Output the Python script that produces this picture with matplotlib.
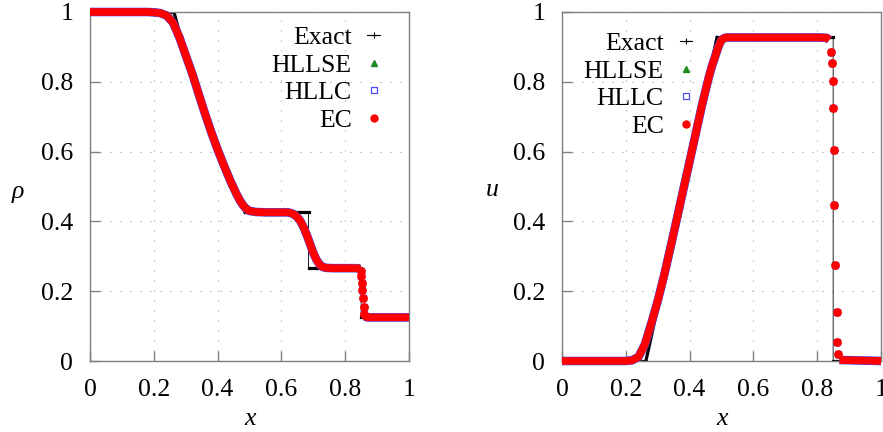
import numpy as np
import matplotlib
matplotlib.use("Agg")
import matplotlib.pyplot as plt
from matplotlib.lines import Line2D

plt.rcParams['font.family'] = ['Liberation Serif', 'DejaVu Serif']

# exact solution (Sod tube)
x_rho_exact = [0.0, 0.263, 0.30, 0.325, 0.35, 0.375, 0.40, 0.425, 0.45, 0.47, 0.486,
               0.685, 0.685, 0.850, 0.850, 1.0]
rho_exact = [1.0, 1.0, 0.877, 0.801, 0.730, 0.664, 0.603, 0.546, 0.494, 0.456, 0.426,
             0.426, 0.266, 0.266, 0.125, 0.125]
x_u_exact = [0.0, 0.263, 0.486, 0.850, 0.850, 1.0]
u_exact = [0.0, 0.0, 0.927, 0.927, 0.0, 0.0]

# numerical solutions (HLLC / HLLSE lie on top of EC)
x_rho_num = [0.0, 0.10, 0.18, 0.20, 0.22, 0.24, 0.26, 0.28, 0.30, 0.32, 0.34, 0.36,
             0.38, 0.40, 0.42, 0.44, 0.46, 0.47, 0.48, 0.49, 0.50, 0.52, 0.55, 0.60,
             0.62, 0.63, 0.64, 0.65, 0.66, 0.67, 0.68, 0.69, 0.70, 0.71, 0.72, 0.73,
             0.74, 0.76, 0.80, 0.84, 0.845,
             0.848, 0.850, 0.852, 0.854, 0.856, 0.858, 0.860,
             0.862, 0.866, 0.87, 1.0]
ec_rho = [1.0, 1.0, 1.0, 0.999, 0.997, 0.99, 0.97, 0.928, 0.876, 0.825, 0.767, 0.71,
          0.656, 0.606, 0.56, 0.516, 0.477, 0.46, 0.446, 0.436, 0.43, 0.427, 0.426, 0.426,
          0.426, 0.424, 0.42, 0.412, 0.40, 0.382, 0.36, 0.335, 0.31, 0.29, 0.276, 0.269,
          0.267, 0.266, 0.266, 0.266, 0.264,
          0.258, 0.243, 0.223, 0.204, 0.18, 0.155, 0.136,
          0.128, 0.126, 0.125, 0.125]
hllc_rho = ec_rho
hllse_rho = ec_rho
rho_shock = (0.846, 0.861)

x_u_num = [0.0, 0.10, 0.18, 0.20, 0.22, 0.24, 0.26, 0.28, 0.30, 0.32, 0.34, 0.36,
           0.38, 0.40, 0.42, 0.44, 0.46, 0.47, 0.48, 0.49, 0.50, 0.51, 0.52, 0.60,
           0.70, 0.80, 0.83, 0.838,
           0.842, 0.845, 0.848, 0.850, 0.853, 0.854, 0.856, 0.861, 0.863, 0.866,
           0.87, 1.0]
ec_u = [0.0, 0.0, 0.0, 0.0, 0.002, 0.012, 0.048, 0.108, 0.172, 0.245, 0.325, 0.407,
        0.49, 0.572, 0.655, 0.738, 0.812, 0.845, 0.872, 0.9, 0.92, 0.926, 0.927, 0.927,
        0.927, 0.927, 0.926, 0.92,
        0.884, 0.855, 0.803, 0.725, 0.606, 0.448, 0.274, 0.139, 0.055, 0.02,
        0.003, 0.0]
hllc_u = ec_u
hllse_u = ec_u
u_shock = (0.840, 0.868)

ticks = [0, 0.2, 0.4, 0.6, 0.8, 1]
tick_labels = ['0', '0.2', '0.4', '0.6', '0.8', '1']

red = '#ff0000'
blue = '#4a4aff'
green = '#1e8c1e'
grey = '#808080'
fs = 18.5


def draw(ax, x_ex, y_ex, x_num, ec, hllc, hllse, shock):
    # exact: thin line everywhere, thick on the non-vertical parts
    ax.plot(x_ex, y_ex, color='black', lw=0.6, zorder=2)
    for i in range(len(x_ex) - 1):
        if x_ex[i + 1] > x_ex[i]:
            ax.plot(x_ex[i:i + 2], y_ex[i:i + 2], color='black', lw=2.3,
                    solid_capstyle='projecting', zorder=2)
    # numerical: dense points drawn as a band, separate cells inside the shock
    x = np.array(x_num)
    in_shock = (x > shock[0]) & (x < shock[1])
    for vals, col, lw, mk, ms, mfc in ((hllse, green, 5.6, '^', 4.2, green),
                                       (hllc, blue, 6.2, 's', 4.8, 'none'),
                                       (ec, red, 5.5, 'o', 5.4, red)):
        vals = np.array(vals)
        band = np.where(in_shock, np.nan, vals)
        ax.plot(x, band, color=col, lw=lw, solid_capstyle='butt', clip_on=False, zorder=3)
        ax.plot(x[in_shock], vals[in_shock], mk, color=col, ms=ms, mfc=mfc, mew=0.9,
                clip_on=False, zorder=3)

    ax.set_xlim(0, 1)
    ax.set_ylim(0, 1)
    ax.set_xticks(ticks)
    ax.set_xticklabels(tick_labels)
    ax.set_yticks(ticks)
    ax.set_yticklabels(tick_labels)
    ax.tick_params(direction='in', length=7.5, width=1, color=grey, labelsize=fs)
    ax.tick_params(axis='x', pad=13)
    ax.tick_params(axis='y', pad=12)
    for s in ax.spines.values():
        s.set_color(grey)
        s.set_linewidth(1)
    ax.grid(True, color='#a0a0a0', lw=0.8, linestyle=(0, (1, 8)))
    ax.set_axisbelow(True)
    ax.set_xlabel('x', fontsize=fs, fontstyle='italic')
    ax.xaxis.label.set_va('center')
    ax.xaxis.set_label_coords(0.5, -0.165)


def legend(ax, anchor):
    handles = [Line2D([], [], color='black', lw=0.8, marker='+', ms=4, mew=0.8),
               Line2D([], [], ls='none', marker='^', color=green, ms=4),
               Line2D([], [], ls='none', marker='s', color=blue, mfc='none', ms=5, mew=0.9),
               Line2D([], [], ls='none', marker='o', color=red, ms=5)]
    ax.legend(handles, ['Exact', 'HLLSE', 'HLLC', 'EC'], loc='upper right',
              bbox_to_anchor=anchor, markerfirst=False, frameon=False, fontsize=fs,
              handlelength=0.5, handletextpad=0.61, labelspacing=0.175,
              borderpad=0, borderaxespad=0)


fig = plt.figure(figsize=(8.83, 4.32), dpi=100)
ax1 = fig.add_axes([90 / 883, 71 / 432, 319 / 883, 349 / 432])
ax2 = fig.add_axes([562 / 883, 71 / 432, 319 / 883, 349 / 432])

draw(ax1, x_rho_exact, rho_exact, x_rho_num, ec_rho, hllc_rho, hllse_rho, rho_shock)
ax1.set_ylabel('ρ', fontsize=fs, fontstyle='italic', rotation=0, va='center', ha='center')
ax1.yaxis.set_label_coords(-0.225, 0.484)
legend(ax1, (0.910, 0.959))

draw(ax2, x_u_exact, u_exact, x_u_num, ec_u, hllc_u, hllse_u, u_shock)
ax2.set_ylabel('u', fontsize=fs, fontstyle='italic', rotation=0, va='center', ha='center')
ax2.yaxis.set_label_coords(-0.219, 0.49)
legend(ax2, (0.4088, 0.942))

fig.savefig('out.png', dpi=100)
